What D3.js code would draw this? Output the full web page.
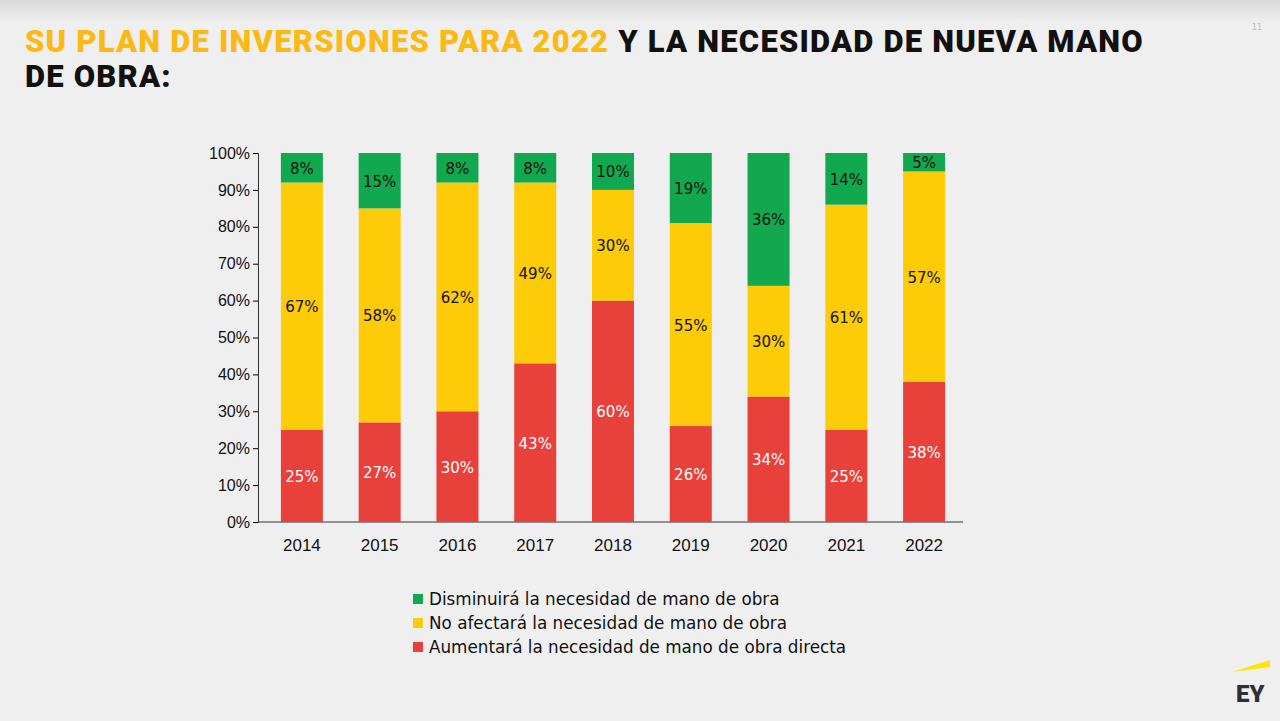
<!DOCTYPE html>
<html><head><meta charset="utf-8">
<script src="https://cdn.jsdelivr.net/npm/d3@7"></script>
<style>body{margin:0;background:#efefef;}svg{display:block;font-family:"DejaVu Sans",sans-serif;}</style>
</head><body><svg id="c" width="1280" height="721"></svg>
<script>
const years=["2014","2015","2016","2017","2018","2019","2020","2021","2022"];
const aumentara=[25,27,30,43,60,26,34,25,38];
const noAfectara=[67,58,62,49,30,55,30,61,57];
const disminuira=[8,15,8,8,10,19,36,14,5];
const yTicks=[0,10,20,30,40,50,60,70,80,90,100];
const seriesNames=["Disminuirá la necesidad de mano de obra","No afectará la necesidad de mano de obra","Aumentará la necesidad de mano de obra directa"];
const colors={a:"#e8403a",n:"#fdcb08",d:"#12a84f"};

const svg=d3.select("#c");
const bg=svg.append("defs").append("linearGradient").attr("id","g").attr("x1",0).attr("x2",0).attr("y1",0).attr("y2",1);
bg.append("stop").attr("offset",0).attr("stop-color","#d8d8d8");
bg.append("stop").attr("offset",0.03).attr("stop-color","#efefef");
svg.append("rect").attr("width",1280).attr("height",721).attr("fill","url(#g)");

const t=svg.append("text").attr("x",25).attr("y",52).attr("font-family","Roboto,sans-serif").attr("font-weight",900).attr("font-size",31).attr("letter-spacing",1.2);
t.append("tspan").attr("fill","#fdb913").text("SU PLAN DE INVERSIONES PARA 2022 ");
t.append("tspan").attr("fill","#111").text("Y LA NECESIDAD DE NUEVA MANO");
svg.append("text").attr("x",25).attr("y",87).attr("font-family","Roboto,sans-serif").attr("font-weight",900).attr("font-size",31).attr("letter-spacing",1.2).attr("fill","#111").text("DE OBRA:");
svg.append("text").attr("x",1262).attr("y",30).attr("font-size",8).attr("fill","#bbb").attr("text-anchor","end").text("11");

const x=d3.scaleBand().domain(years).range([263,963]).paddingInner(0.46).paddingOuter(0.23);
const y=d3.scaleLinear().domain([0,100]).range([522,153]);

const ax=svg.append("g").attr("transform","translate(258,0)").call(d3.axisLeft(y).tickValues(yTicks).tickFormat(d=>d+"%").tickSize(5));
ax.select(".domain").attr("stroke","#333");
ax.selectAll("text").attr("font-size",16).attr("fill","#111");
svg.append("line").attr("x1",258).attr("x2",963).attr("y1",522).attr("y2",522).attr("stroke","#333");
const xa=svg.append("g").attr("transform","translate(0,522)").call(d3.axisBottom(x).tickSize(0).tickPadding(17));
xa.select(".domain").remove();
xa.selectAll("text").attr("font-size",17).attr("fill","#111");

years.forEach((yr,i)=>{
  const segs=[[0,aumentara[i],colors.a,"#fff"],[aumentara[i],aumentara[i]+noAfectara[i],colors.n,"#111"],[aumentara[i]+noAfectara[i],100,colors.d,"#111"]];
  const vals=[aumentara[i],noAfectara[i],disminuira[i]];
  segs.forEach((s,k)=>{
    svg.append("rect").attr("x",x(yr)).attr("width",x.bandwidth()).attr("y",y(s[1])).attr("height",y(s[0])-y(s[1])).attr("fill",s[2]);
    const cy=(y(s[0])+y(s[1]))/2;
    svg.append("text").attr("x",x(yr)+x.bandwidth()/2).attr("y",cy+6).attr("text-anchor","middle").attr("font-size",15).attr("fill",s[3]).text(vals[k]+"%");
  });
});

const lc=[colors.d,colors.n,colors.a];
seriesNames.forEach((n,i)=>{
  const yy=605+i*24;
  svg.append("rect").attr("x",413).attr("y",yy-11).attr("width",10).attr("height",10).attr("fill",lc[i]);
  svg.append("text").attr("x",429).attr("y",yy).attr("font-size",16.8).attr("fill","#111").text(n);
});

svg.append("path").attr("d","M1232,672 L1270,660 L1270,667 Z").attr("fill","#ffe600");
svg.append("text").attr("x",1236).attr("y",702).attr("font-family","Roboto,sans-serif").attr("font-weight",900).attr("font-size",24).attr("fill","#2e2e38").text("EY");
</script></body></html>
